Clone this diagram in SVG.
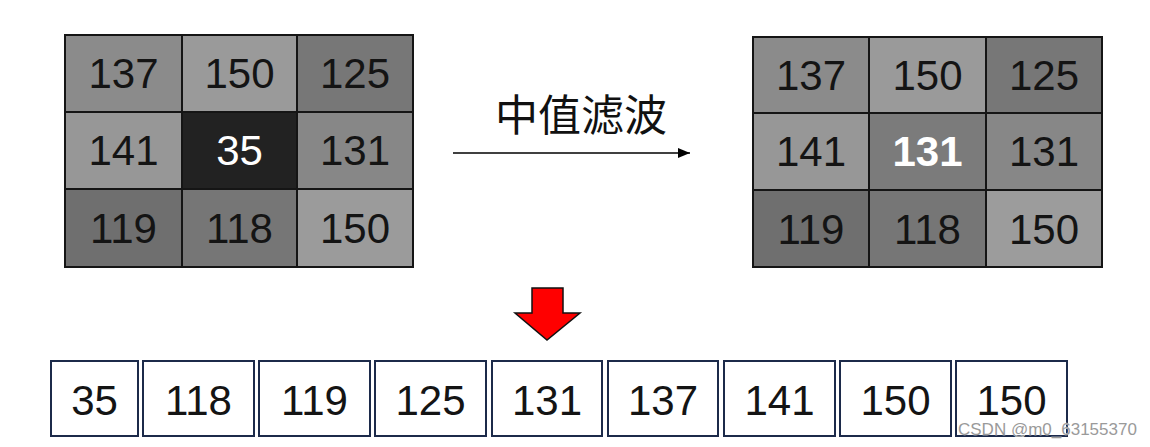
<svg xmlns="http://www.w3.org/2000/svg" width="1150" height="447" viewBox="0 0 1150 447">
<style>
.c{stroke:#151515;stroke-width:2}
.n{font-family:"Liberation Sans",Arial,sans-serif;font-size:42px;fill:#141414;text-anchor:middle}
.w{fill:#ffffff}
.b{font-weight:bold}
.box{fill:#ffffff;stroke:#1c2a4a;stroke-width:2}
</style>
<defs>
<marker id="ah" markerWidth="12" markerHeight="10" refX="12" refY="5" orient="auto" markerUnits="userSpaceOnUse">
<path d="M0,0 L12,5 L0,10 Z" fill="#000"/>
</marker>
</defs>
<rect width="1150" height="447" fill="#ffffff"/>
<g id="grid-left">
<rect class="c" x="65" y="35" width="117" height="77" fill="#8b8b8b"/>
<rect class="c" x="182" y="35" width="115" height="77" fill="#9a9a9a"/>
<rect class="c" x="297" y="35" width="116" height="77" fill="#777777"/>
<rect class="c" x="65" y="112" width="117" height="77" fill="#979797"/>
<rect class="c" x="182" y="112" width="115" height="77" fill="#222222"/>
<rect class="c" x="297" y="112" width="116" height="77" fill="#878787"/>
<rect class="c" x="65" y="189" width="117" height="78" fill="#6f6f6f"/>
<rect class="c" x="182" y="189" width="115" height="78" fill="#767676"/>
<rect class="c" x="297" y="189" width="116" height="78" fill="#9b9b9b"/>
<text class="n" x="123.5" y="88">137</text>
<text class="n" x="239.5" y="88">150</text>
<text class="n" x="355" y="88">125</text>
<text class="n" x="123.5" y="165">141</text>
<text class="n w" x="239.5" y="165">35</text>
<text class="n" x="355" y="165">131</text>
<text class="n" x="123.5" y="243">119</text>
<text class="n" x="239.5" y="243">118</text>
<text class="n" x="355" y="243">150</text>
</g>
<g id="grid-right">
<rect class="c" x="753" y="37" width="116" height="76" fill="#8b8b8b"/>
<rect class="c" x="869" y="37" width="117" height="76" fill="#9a9a9a"/>
<rect class="c" x="986" y="37" width="116" height="76" fill="#777777"/>
<rect class="c" x="753" y="113" width="116" height="77" fill="#979797"/>
<rect class="c" x="869" y="113" width="117" height="77" fill="#7b7b7b"/>
<rect class="c" x="986" y="113" width="116" height="77" fill="#878787"/>
<rect class="c" x="753" y="190" width="116" height="77" fill="#6f6f6f"/>
<rect class="c" x="869" y="190" width="117" height="77" fill="#767676"/>
<rect class="c" x="986" y="190" width="116" height="77" fill="#9c9c9c"/>
<text class="n" x="811" y="90">137</text>
<text class="n" x="927.5" y="90">150</text>
<text class="n" x="1044" y="90">125</text>
<text class="n" x="811" y="166">141</text>
<text class="n w b" x="927.5" y="166">131</text>
<text class="n" x="1044" y="166">131</text>
<text class="n" x="811" y="244">119</text>
<text class="n" x="927.5" y="244">118</text>
<text class="n" x="1044" y="244">150</text>
</g>
<g id="label">
<text x="581" y="131" font-family="'Noto Sans CJK SC',sans-serif" font-size="43" fill="#111" text-anchor="middle">中值滤波</text>
</g>
<g id="connectors">
<line x1="453" y1="153" x2="690" y2="153" stroke="#000" stroke-width="1.5" marker-end="url(#ah)"/>
<path d="M532,288 L563,288 L563,313 L580,313 L547,340 L515,313 L532,313 Z" fill="#ff0000" stroke="#111" stroke-width="1.5" stroke-linejoin="miter"/>
</g>
<g id="sorted">
<rect class="box" x="51" y="361" width="87" height="75"/>
<rect class="box" x="143" y="361" width="111" height="75"/>
<rect class="box" x="259" y="361" width="111" height="75"/>
<rect class="box" x="375" y="361" width="111" height="75"/>
<rect class="box" x="492" y="361" width="110" height="75"/>
<rect class="box" x="608" y="361" width="110" height="75"/>
<rect class="box" x="724" y="361" width="111" height="75"/>
<rect class="box" x="840" y="361" width="111" height="75"/>
<rect class="box" x="956" y="361" width="111" height="75"/>
<text class="n" x="94.5" y="415">35</text>
<text class="n" x="198.5" y="415">118</text>
<text class="n" x="314.5" y="415">119</text>
<text class="n" x="430.5" y="415">125</text>
<text class="n" x="547" y="415">131</text>
<text class="n" x="663" y="415">137</text>
<text class="n" x="779.5" y="415">141</text>
<text class="n" x="895.5" y="415">150</text>
<text class="n" x="1011.5" y="415">150</text>
</g>
<text x="958" y="435" font-family="'Liberation Sans',Arial,sans-serif" font-size="17" fill="#9a9a9a" stroke="#ffffff" stroke-width="0.6" paint-order="stroke">CSDN @m0_63155370</text>
</svg>
